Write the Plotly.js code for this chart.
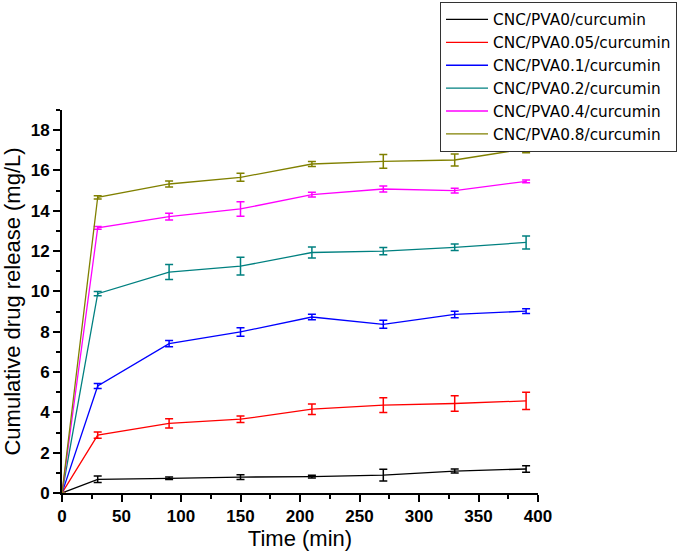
<!DOCTYPE html>
<html>
<head>
<meta charset="utf-8">
<script src="https://cdn.plot.ly/plotly-3.0.1.min.js"></script>
<style>html,body{margin:0;padding:0;background:#fff}#chart{width:697px;height:556px}</style>
</head>
<body>
<div id="chart"></div>
<script>
var time = [0, 30, 90, 150, 210, 270, 330, 390];
var seriesNames = ["CNC/PVA0/curcumin", "CNC/PVA0.05/curcumin", "CNC/PVA0.1/curcumin", "CNC/PVA0.2/curcumin", "CNC/PVA0.4/curcumin", "CNC/PVA0.8/curcumin"];
var pva0 = [0, 0.68, 0.73, 0.79, 0.81, 0.89, 1.09, 1.19];
var pva005 = [0, 2.87, 3.45, 3.66, 4.16, 4.36, 4.44, 4.57];
var pva01 = [0, 5.31, 7.41, 7.99, 8.73, 8.37, 8.86, 9.02];
var pva02 = [0, 9.89, 10.96, 11.25, 11.93, 12.0, 12.19, 12.43];
var pva04 = [0, 13.15, 13.71, 14.09, 14.8, 15.08, 15.0, 15.46];
var pva08 = [0, 14.67, 15.33, 15.66, 16.32, 16.45, 16.52, 17.08];
var err0 = [0, 0.16, 0.06, 0.12, 0.07, 0.29, 0.10, 0.16];
var err005 = [0, 0.16, 0.23, 0.16, 0.26, 0.37, 0.38, 0.43];
var err01 = [0, 0.12, 0.16, 0.21, 0.14, 0.20, 0.16, 0.12];
var err02 = [0, 0.10, 0.37, 0.44, 0.27, 0.18, 0.16, 0.32];
var err04 = [0, 0.07, 0.17, 0.36, 0.12, 0.15, 0.12, 0.07];
var err08 = [0, 0.08, 0.15, 0.20, 0.12, 0.34, 0.30, 0.20];
var colors = ["#000000", "#FF0000", "#0000FF", "#008080", "#FF00FF", "#808000"];

var values = [pva0, pva005, pva01, pva02, pva04, pva08];
var errs = [err0, err005, err01, err02, err04, err08];

var traces = values.map(function(v, i) {
  return {
    x: time, y: v, name: seriesNames[i], type: 'scatter', mode: 'lines',
    line: {color: colors[i], width: 1.3},
    error_y: {type: 'data', array: errs[i], visible: true, color: colors[i], thickness: 1.5, width: 4}
  };
});

var fontFam = 'Liberation Sans, Arial, sans-serif';
var layout = {
  width: 697, height: 556,
  margin: {l: 62, r: 159, t: 110, b: 63, autoexpand: false},
  paper_bgcolor: '#fff', plot_bgcolor: '#fff',
  font: {family: fontFam, color: '#000'},
  showlegend: true,
  legend: {
    xref: 'container', yref: 'container', x: 0.6313, y: 0.9964, xanchor: 'left', yanchor: 'top',
    bgcolor: '#fff', bordercolor: '#333', borderwidth: 1,
    font: {family: 'DejaVu Sans, Liberation Sans, sans-serif', size: 15.3, color: '#000'},
    itemwidth: 42,
    tracegroupgap: 0
  },
  xaxis: {
    range: [0, 400], dtick: 50, tick0: 0,
    showline: true, linecolor: '#000', linewidth: 2, mirror: false,
    showgrid: false, zeroline: false,
    ticks: 'outside', ticklen: 7, tickwidth: 2, tickcolor: '#000',
    minor: {dtick: 25, ticks: 'outside', ticklen: 4, tickwidth: 2, tickcolor: '#000', showgrid: false},
    tickfont: {family: fontFam, size: 17, weight: 'bold', color: '#000'},
    title: {text: 'Time (min)', font: {family: fontFam, size: 22, color: '#000'}, standoff: 5}
  },
  yaxis: {
    range: [0, 19], dtick: 2, tick0: 0,
    showline: true, linecolor: '#000', linewidth: 2, mirror: false,
    showgrid: false, zeroline: false,
    ticks: 'outside', ticklen: 7, tickwidth: 2, tickcolor: '#000',
    minor: {dtick: 1, ticks: 'outside', ticklen: 4, tickwidth: 2, tickcolor: '#000', showgrid: false},
    tickfont: {family: fontFam, size: 17, weight: 'bold', color: '#000'},
    title: {text: 'Cumulative drug release (mg/L)', font: {family: fontFam, size: 22, color: '#000'}, standoff: 6}
  }
};

Plotly.newPlot('chart', traces, layout, {displayModeBar: false, staticPlot: true});
</script>
</body>
</html>
